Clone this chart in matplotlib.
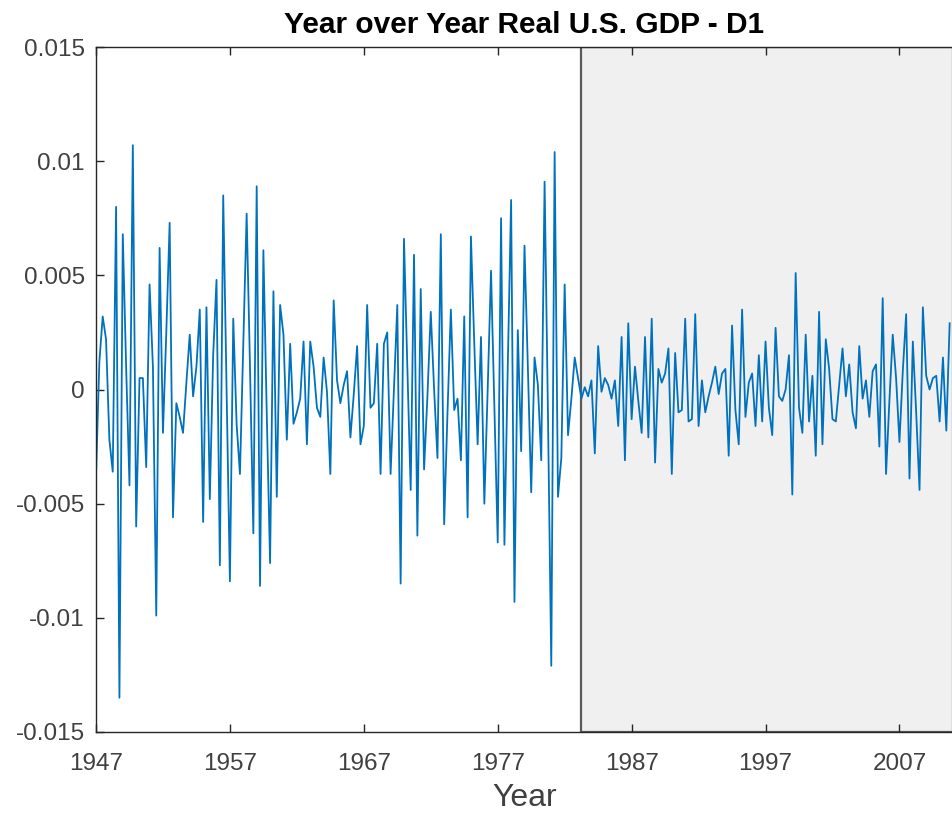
import matplotlib
matplotlib.use("Agg")
import matplotlib.pyplot as plt
import numpy as np

plt.rcParams['font.family'] = ['Liberation Sans', 'DejaVu Sans']

# quarterly detail coefficients (D1), 1947Q1 onward
d1_1947_1971 = [
    -0.0038, 0.0012, 0.0032, 0.0022, -0.0022, -0.0036, 0.0080, -0.0135, 0.0068, 0.0010,
    -0.0042, 0.0107, -0.0060, 0.0005, 0.0005, -0.0034, 0.0046, 0.0010, -0.0099, 0.0062,
    -0.0019, 0.0025, 0.0073, -0.0056, -0.0006, -0.0012, -0.0019, 0.0003, 0.0024, -0.0003,
    0.0010, 0.0035, -0.0058, 0.0036, -0.0048, 0.0015, 0.0048, -0.0077, 0.0085, 0.0000,
    -0.0084, 0.0031, -0.0015, -0.0037, 0.0020, 0.0077, 0.0010, -0.0063, 0.0089, -0.0086,
    0.0061, -0.0010, -0.0076, 0.0043, -0.0047, 0.0037, 0.0024, -0.0022, 0.0020, -0.0015,
    -0.0010, -0.0004, 0.0021, -0.0024, 0.0021, 0.0010, -0.0008, -0.0012, 0.0014, -0.0001,
    -0.0037, 0.0039, 0.0004, -0.0006, 0.0002, 0.0008, -0.0021, -0.0002, 0.0019, -0.0024,
    -0.0016, 0.0037, -0.0008, -0.0006, 0.0020, -0.0037, 0.0020, 0.0025, -0.0037, 0.0000,
    0.0037, -0.0085, 0.0066, 0.0010, -0.0044, 0.0059, -0.0064, 0.0044, -0.0035, -0.0003,
]
d1_1972_1983 = [
    0.0034, 0.0000, -0.0030, 0.0068, -0.0059, -0.0010, 0.0035, -0.0009, -0.0004, -0.0031,
    0.0032, -0.0056, 0.0067, 0.0020, -0.0024, 0.0023, -0.0050, 0.0000, 0.0052, -0.0008,
    -0.0067, 0.0075, -0.0068, 0.0010, 0.0083, -0.0093, 0.0026, -0.0027, 0.0063, 0.0010,
    -0.0045, 0.0014, 0.0002, -0.0031, 0.0091, -0.0010, -0.0121, 0.0104, -0.0047, -0.0030,
    0.0046, -0.0020, -0.0004, 0.0014, 0.0005,
]
d1_1983_2010 = [
    -0.0004, 0.0001, -0.0003, 0.0004, -0.0028,
    0.0019, -0.0001, 0.0005, 0.0002, -0.0004, 0.0004, -0.0016, 0.0023, -0.0031, 0.0029,
    -0.0013, 0.0010, -0.0005, -0.0019, 0.0023, -0.0021, 0.0031, -0.0032, 0.0009, 0.0003,
    0.0007, 0.0018, -0.0037, 0.0016, -0.0010, -0.0009, 0.0031, -0.0014, -0.0013, 0.0033,
    -0.0016, 0.0004, -0.0010, -0.0003, 0.0003, 0.0010, -0.0002, 0.0007, 0.0009, -0.0029,
    0.0028, -0.0009, -0.0024, 0.0035, -0.0012, 0.0003, 0.0007, -0.0016, 0.0015, -0.0014,
    0.0021, -0.0008, -0.0020, 0.0027, -0.0003, -0.0005, 0.0000, 0.0015, -0.0046, 0.0051,
    -0.0008, -0.0019, 0.0024, -0.0014, 0.0006, -0.0029, 0.0034, -0.0024, 0.0022, 0.0009,
    -0.0013, -0.0014, 0.0002, 0.0018, -0.0003, 0.0011, -0.0010, -0.0017, 0.0019, -0.0004,
    0.0004, -0.0012, 0.0008, 0.0011, -0.0025, 0.0040, -0.0037, -0.0005, 0.0024, 0.0005,
    -0.0023, 0.0008, 0.0033, -0.0039, 0.0021, -0.0010, -0.0044, 0.0036, 0.0006, 0.0000,
    0.0005, 0.0006, -0.0014, 0.0014, -0.0018, 0.0029,
]
start_year = 1947
shade_start = 1983.25
x_ticks = [1947, 1957, 1967, 1977, 1987, 1997, 2007]
y_ticks = [-0.015, -0.01, -0.005, 0, 0.005, 0.01, 0.015]
y_labels = ['-0.015', '-0.01', '-0.005', '0', '0.005', '0.01', '0.015']

d1 = np.array(d1_1947_1971 + d1_1972_1983 + d1_1983_2010)
years = start_year + np.arange(len(d1)) / 4.0

fig = plt.figure(figsize=(9.53, 8.16), dpi=100)
ax = fig.add_axes([96/953, 1 - 732/816, 1 - 96/953, (732 - 47)/816])

xmax = 2011.0
ax.axvspan(shade_start, xmax, facecolor='#f0f0f0', edgecolor='#5a5a5a', linewidth=1.6, zorder=1)
ax.plot(years, d1, color='#0072BD', linewidth=1.3, zorder=2)

ax.set_xlim(start_year, xmax)
ax.set_ylim(-0.015, 0.015)
ax.set_xticks(x_ticks)
ax.set_yticks(y_ticks)
ax.set_yticklabels(y_labels)

ax.tick_params(direction='in', length=6, width=1, colors='#262626', labelsize=17.5,
               top=True, right=False)
ax.tick_params(axis='both', labelcolor='#404040')
ax.tick_params(axis='x', pad=15)
ax.tick_params(axis='y', pad=8)
for s in ['left', 'bottom', 'top']:
    ax.spines[s].set_color('#262626')
    ax.spines[s].set_linewidth(1.0)
ax.spines['right'].set_visible(False)

ax.set_title('Year over Year Real U.S. GDP - D1', fontsize=21.5, fontweight='bold', pad=10)
ax.set_xlabel('Year', fontsize=23, color='#404040', labelpad=6)

fig.savefig('out.png', dpi=100)
